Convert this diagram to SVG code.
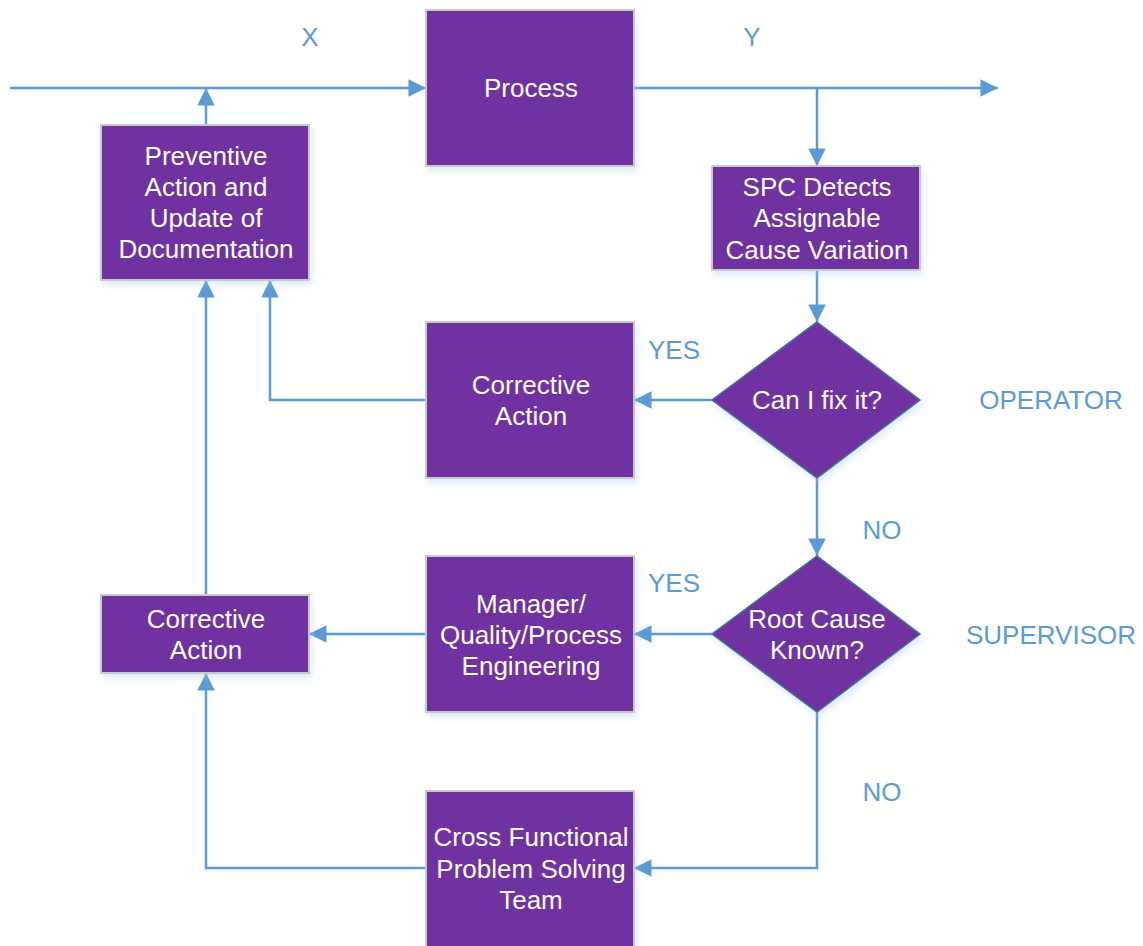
<svg xmlns="http://www.w3.org/2000/svg" width="1143" height="946" viewBox="0 0 1143 946">
  <style>
    .box { fill: #7030A0; stroke: #C9C9C9; stroke-width: 2; filter: url(#shadow); }
    .dia { fill: #7030A0; stroke: #41719C; stroke-width: 1.5; filter: url(#shadow); }
    .txt { font-family: "Liberation Sans", Arial, sans-serif; font-size: 26px; fill: #FFFFFF; text-anchor: middle; }
    .lbl { font-family: "Liberation Sans", Arial, sans-serif; font-size: 26px; fill: #5B9BD5; text-anchor: middle; }
    .wire { fill: none; stroke: #5B9BD5; stroke-width: 2.5; }
  </style>
  <defs>
    <marker id="arrow" viewBox="0 0 10 10" refX="10" refY="5" markerWidth="8" markerHeight="7" markerUnits="strokeWidth" orient="auto">
      <path d="M0,0 L10,5 L0,10 Z" fill="#5B9BD5"/>
    </marker>
    <filter id="shadow" x="-10%" y="-10%" width="130%" height="130%">
      <feDropShadow dx="2" dy="4" stdDeviation="3" flood-color="#9DC3E6" flood-opacity="0.35"/>
    </filter>
  </defs>
  <rect width="1143" height="946" fill="#FFFFFF"/>

  <!-- connectors -->
  <g id="connectors">
    <path class="wire" d="M10,88 H426" marker-end="url(#arrow)"/>
    <path class="wire" d="M634,88 H998" marker-end="url(#arrow)"/>
    <path class="wire" d="M817,88 V166" marker-end="url(#arrow)"/>
    <path class="wire" d="M817,270 V322" marker-end="url(#arrow)"/>
    <path class="wire" d="M712,400 H634" marker-end="url(#arrow)"/>
    <path class="wire" d="M426,400 H270 V280" marker-end="url(#arrow)"/>
    <path class="wire" d="M206,125 V88" marker-end="url(#arrow)"/>
    <path class="wire" d="M817,478 V556" marker-end="url(#arrow)"/>
    <path class="wire" d="M712,634 H634" marker-end="url(#arrow)"/>
    <path class="wire" d="M426,634 H309" marker-end="url(#arrow)"/>
    <path class="wire" d="M206,595 V280" marker-end="url(#arrow)"/>
    <path class="wire" d="M817,712 V868 H634" marker-end="url(#arrow)"/>
    <path class="wire" d="M426,868 H206 V673" marker-end="url(#arrow)"/>
  </g>

  <!-- nodes -->
  <g id="process">
    <rect class="box" x="426" y="10" width="208" height="156"/>
    <text class="txt" x="531" y="97">Process</text>
  </g>
  <g id="spc">
    <rect class="box" x="712" y="166" width="208" height="104"/>
    <text class="txt" x="817" y="196">SPC Detects</text>
    <text class="txt" x="817" y="227">Assignable</text>
    <text class="txt" x="817" y="259">Cause Variation</text>
  </g>
  <g id="fix-decision">
    <polygon class="dia" points="817,322 920,400 817,478 712,400"/>
    <text class="txt" x="817" y="409">Can I fix it?</text>
  </g>
  <g id="corrective-operator">
    <rect class="box" x="426" y="322" width="208" height="156"/>
    <text class="txt" x="531" y="394">Corrective</text>
    <text class="txt" x="531" y="425">Action</text>
  </g>
  <g id="preventive">
    <rect class="box" x="101" y="125" width="208" height="155"/>
    <text class="txt" x="206" y="165">Preventive</text>
    <text class="txt" x="206" y="196">Action and</text>
    <text class="txt" x="206" y="227">Update of</text>
    <text class="txt" x="206" y="258">Documentation</text>
  </g>
  <g id="root-cause-decision">
    <polygon class="dia" points="817,556 920,634 817,712 712,634"/>
    <text class="txt" x="817" y="628">Root Cause</text>
    <text class="txt" x="817" y="659">Known?</text>
  </g>
  <g id="engineering">
    <rect class="box" x="426" y="556" width="208" height="156"/>
    <text class="txt" x="531" y="613">Manager/</text>
    <text class="txt" x="531" y="644">Quality/Process</text>
    <text class="txt" x="531" y="675">Engineering</text>
  </g>
  <g id="corrective-supervisor">
    <rect class="box" x="101" y="595" width="208" height="78"/>
    <text class="txt" x="206" y="628">Corrective</text>
    <text class="txt" x="206" y="659">Action</text>
  </g>
  <g id="cross-functional">
    <rect class="box" x="426" y="791" width="208" height="160"/>
    <text class="txt" x="531" y="846">Cross Functional</text>
    <text class="txt" x="531" y="878">Problem Solving</text>
    <text class="txt" x="531" y="909">Team</text>
  </g>

  <!-- labels -->
  <g id="labels">
    <text class="lbl" x="310" y="46">X</text>
    <text class="lbl" x="752" y="46">Y</text>
    <text class="lbl" x="674" y="359">YES</text>
    <text class="lbl" x="674" y="592">YES</text>
    <text class="lbl" x="882" y="539">NO</text>
    <text class="lbl" x="882" y="801">NO</text>
    <text class="lbl" x="1051" y="409">OPERATOR</text>
    <text class="lbl" x="1051" y="644">SUPERVISOR</text>
  </g>
</svg>
